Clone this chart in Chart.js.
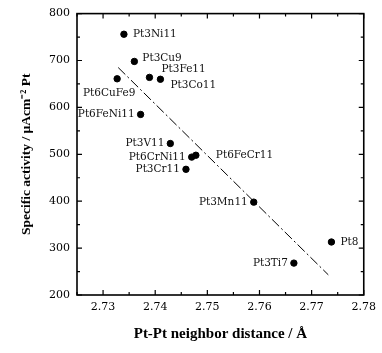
<!DOCTYPE html>
<html>
<head>
<meta charset="utf-8">
<script src="https://cdn.jsdelivr.net/npm/chart.js@4/dist/chart.umd.min.js"></script>
<style>
  html, body { margin: 0; padding: 0; background: #fff; }
  #wrap { width: 382px; height: 353px; }
</style>
</head>
<body>
<div id="wrap"><canvas id="c" width="382" height="353"></canvas></div>
<script>
// ---- data ----
const sampleNames = ["Pt3Ni11", "Pt3Cu9", "Pt6CuFe9", "Pt3Fe11", "Pt3Co11", "Pt6FeNi11", "Pt3V11", "Pt6CrNi11", "Pt6FeCr11", "Pt3Cr11", "Pt3Mn11", "Pt8", "Pt3Ti7"];
const distances = [2.734, 2.736, 2.7327, 2.7389, 2.741, 2.7372, 2.7429, 2.747, 2.7478, 2.7459, 2.7589, 2.7738, 2.7666];
const activities = [756, 698, 661, 664, 660, 585, 523, 494, 498, 468, 398, 313, 268];
const fitX = [2.7329, 2.7732];
const fitY = [685, 243];
const xTickValues = [2.73, 2.74, 2.75, 2.76, 2.77, 2.78];
const yTickValues = [200, 300, 400, 500, 600, 700, 800];
// label placement: side of the point (style only)
const labelSide = ["r", "ur", "b", "ar", "br", "l", "l", "l", "r", "l", "l", "r", "l"];

const serif = "'DejaVu Serif', 'Liberation Serif', serif";
const titleFont = "'Liberation Serif', 'Times New Roman', serif";

const points = distances.map((x, i) => ({ x: x, y: activities[i] }));
const fitLine = fitX.map((x, i) => ({ x: x, y: fitY[i] }));

const framePlugin = {
  id: 'frameTicks',
  afterDatasetsDraw(chart) {
    const ctx = chart.ctx;
    const a = chart.chartArea;
    const xs = chart.scales.x, ys = chart.scales.y;
    ctx.save();
    ctx.strokeStyle = '#000';
    ctx.lineWidth = 1.6;
    ctx.strokeRect(a.left, a.top, a.right - a.left, a.bottom - a.top);
    ctx.lineWidth = 1.2;
    ctx.beginPath();
    for (let k = 0; k < xTickValues.length; k++) {
      const v = xTickValues[k];
      [v, v - 0.005].forEach((t, j) => {
        if (t < xs.min - 1e-9 || t > xs.max + 1e-9) return;
        const px = xs.getPixelForValue(t);
        const len = j === 0 ? 5 : 3;
        ctx.moveTo(px, a.bottom); ctx.lineTo(px, a.bottom - len);
        ctx.moveTo(px, a.top); ctx.lineTo(px, a.top + len);
      });
    }
    for (let k = 0; k < yTickValues.length; k++) {
      const v = yTickValues[k];
      [v, v - 50].forEach((t, j) => {
        if (t < ys.min || t > ys.max) return;
        const py = ys.getPixelForValue(t);
        const len = j === 0 ? 5 : 3;
        ctx.moveTo(a.left, py); ctx.lineTo(a.left + len, py);
        ctx.moveTo(a.right, py); ctx.lineTo(a.right - len, py);
      });
    }
    ctx.stroke();

    // point labels
    ctx.fillStyle = '#111';
    ctx.font = "10.5px " + serif;
    ctx.textBaseline = 'middle';
    const meta = chart.getDatasetMeta(0);
    meta.data.forEach((el, i) => {
      const name = sampleNames[i];
      const side = labelSide[i];
      let x = el.x, y = el.y;
      if (side === 'r') { ctx.textAlign = 'left'; x += 9; }
      else if (side === 'ur') { ctx.textAlign = 'left'; x += 8; y -= 3; }
      else if (side === 'l') { ctx.textAlign = 'right'; x -= 6; }
      else if (side === 'b') { ctx.textAlign = 'center'; x -= 8; y += 14; }
      else if (side === 'ar') { ctx.textAlign = 'left'; x += 12; y -= 8; }
      else if (side === 'br') { ctx.textAlign = 'left'; x += 10; y += 6; }
      if (name === 'Pt6FeCr11') x += 11;
      ctx.fillText(name, x, y);
    });
    ctx.restore();
  }
};

new Chart(document.getElementById('c'), {
  type: 'scatter',
  data: {
    datasets: [
      {
        data: points,
        backgroundColor: '#000',
        borderColor: '#000',
        pointRadius: 3.2,
        pointHoverRadius: 3.2,
        showLine: false
      },
      {
        type: 'line',
        data: fitLine,
        borderColor: '#000',
        borderWidth: 1,
        borderDash: [10, 3, 2, 3],
        pointRadius: 0,
        fill: false,
        tension: 0
      }
    ]
  },
  options: {
    responsive: false,
    animation: false,
    events: [],
    layout: { padding: { top: 13, right: 13, left: 0, bottom: 0 } },
    plugins: { legend: { display: false }, tooltip: { enabled: false } },
    scales: {
      x: {
        type: 'linear',
        min: 2.725,
        max: 2.78,
        grid: { display: false, drawTicks: false },
        border: { display: false },
        afterBuildTicks: (s) => { s.ticks = xTickValues.map(v => ({ value: v })); },
        afterFit: (s) => { s.height = 58; },
        ticks: {
          color: '#000',
          padding: 6,
          font: { family: serif, size: 11 },
          callback: (v) => v.toFixed(2),
          maxRotation: 0
        },
        title: {
          display: true,
          text: 'Pt-Pt neighbor distance / Å',
          color: '#000',
          font: { family: titleFont, size: 15, weight: 'bold' },
          padding: { top: 0, bottom: 10 }
        }
      },
      y: {
        type: 'linear',
        min: 200,
        max: 800,
        grid: { display: false, drawTicks: false },
        border: { display: false },
        afterBuildTicks: (s) => { s.ticks = yTickValues.map(v => ({ value: v })); },
        afterFit: (s) => { s.width = 77; },
        ticks: {
          color: '#000',
          padding: 7,
          font: { family: serif, size: 11 }
        },
        title: {
          display: true,
          text: 'Specific activity / µAcm⁻² Pt',
          color: '#000',
          font: { family: titleFont, size: 13.5, weight: 'bold' },
          padding: { top: 18, bottom: 0 }
        }
      }
    }
  },
  plugins: [framePlugin]
});
</script>
</body>
</html>
